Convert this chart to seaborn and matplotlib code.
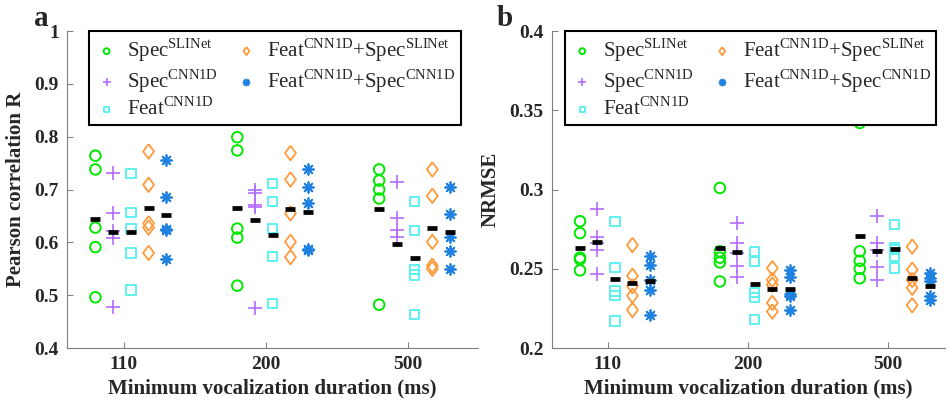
import numpy as np
import pandas as pd
import seaborn as sns
import matplotlib.pyplot as plt
from matplotlib.ticker import FuncFormatter, MultipleLocator

durations = [110, 200, 500]
models = ["Spec$^{\\mathrm{SLINet}}$", "Spec$^{\\mathrm{CNN1D}}$", "Feat$^{\\mathrm{CNN1D}}$",
          "Feat$^{\\mathrm{CNN1D}}$+Spec$^{\\mathrm{SLINet}}$",
          "Feat$^{\\mathrm{CNN1D}}$+Spec$^{\\mathrm{CNN1D}}$"]

# Pearson R, one list of folds per duration (110, 200, 500)
r_spec_slinet = [[0.764, 0.738, 0.628, 0.591, 0.496], [0.799, 0.774, 0.626, 0.609, 0.518], [0.738, 0.717, 0.700, 0.683, 0.482]]
r_spec_cnn1d = [[0.731, 0.656, 0.622, 0.609, 0.478], [0.700, 0.694, 0.671, 0.667, 0.476], [0.715, 0.647, 0.624, 0.610, 0.385]]
r_feat_cnn1d = [[0.730, 0.656, 0.626, 0.580, 0.510], [0.712, 0.677, 0.626, 0.573, 0.484], [0.677, 0.623, 0.548, 0.538, 0.464]]
r_feat_spec_slinet = [[0.772, 0.709, 0.636, 0.628, 0.580], [0.769, 0.719, 0.655, 0.601, 0.572], [0.738, 0.688, 0.601, 0.556, 0.550]]
r_feat_spec_cnn1d = [[0.756, 0.685, 0.626, 0.624, 0.569], [0.738, 0.704, 0.674, 0.588, 0.586], [0.704, 0.653, 0.611, 0.583, 0.550]]

# NRMSE
e_spec_slinet = [[0.280, 0.2725, 0.257, 0.256, 0.249], [0.301, 0.261, 0.257, 0.254, 0.242], [0.342, 0.261, 0.255, 0.250, 0.244]]
e_spec_cnn1d = [[0.288, 0.270, 0.266, 0.262, 0.247], [0.279, 0.2665, 0.260, 0.252, 0.245], [0.283, 0.266, 0.262, 0.251, 0.243]]
e_feat_cnn1d = [[0.280, 0.251, 0.236, 0.233, 0.217], [0.261, 0.2545, 0.235, 0.232, 0.218], [0.278, 0.2636, 0.262, 0.258, 0.2504]]
e_feat_spec_slinet = [[0.265, 0.2456, 0.239, 0.233, 0.224], [0.2504, 0.243, 0.240, 0.2285, 0.223], [0.264, 0.2494, 0.243, 0.238, 0.227]]
e_feat_spec_cnn1d = [[0.258, 0.2525, 0.243, 0.2364, 0.221], [0.2494, 0.245, 0.2343, 0.2326, 0.2238], [0.2473, 0.2442, 0.2423, 0.2326, 0.2301]]

r_all = [r_spec_slinet, r_spec_cnn1d, r_feat_cnn1d, r_feat_spec_slinet, r_feat_spec_cnn1d]
e_all = [e_spec_slinet, e_spec_cnn1d, e_feat_cnn1d, e_feat_spec_slinet, e_feat_spec_cnn1d]

colors = ["#00e800", "#b46cff", "#5ef0f0", "#ff9a3c", "#1f82e0"]
offsets = [-0.2, -0.075, 0.05, 0.175, 0.3]
diamond = [(0, 1), (0.75, 0), (0, -1), (-0.75, 0), (0, 1)]
styles = [
    dict(marker="o", s=58, facecolors="none", linewidth=1.4),
    dict(marker="+", s=90, linewidth=1.2),
    dict(marker="s", s=45, facecolors="none", linewidth=1.4),
    dict(marker=diamond, s=110, facecolors="none", linewidth=1.3),
    dict(marker=(8, 2, 0), s=60, linewidth=1.3),
]


def long_table(values):
    rows = []
    for m, per_dur in enumerate(values):
        for d, folds in enumerate(per_dur):
            for v in folds:
                rows.append({"model": m, "dur": d, "x": d + 1 + offsets[m], "value": v})
    return pd.DataFrame(rows)


sns.set_style("ticks")
plt.rcParams["font.family"] = ["Liberation Serif", "DejaVu Serif"]
plt.rcParams["mathtext.fontset"] = "custom"
plt.rcParams["mathtext.rm"] = "Liberation Serif"

fig = plt.figure(figsize=(9.48, 4.08), dpi=100)
ax_a = fig.add_axes([0.0707, 0.147, 0.434, 0.777])
ax_b = fig.add_axes([0.5823, 0.147, 0.4146, 0.777])

panels = [(ax_a, r_all, "Pearson correlation R", (0.4, 1.0), 0.1, (0.6, 3.5)),
          (ax_b, e_all, "NRMSE", (0.2, 0.4), 0.05, (0.6, 3.41))]

for ax, values, ylabel, ylim, step, xlim in panels:
    df = long_table(values)
    for m in range(len(models)):
        sub = df[df["model"] == m]
        kw = dict(styles[m])
        if "facecolors" in kw:
            kw["edgecolor"] = colors[m]
        else:
            kw["color"] = colors[m]
        sns.scatterplot(data=sub, x="x", y="value", ax=ax, label=models[m], zorder=3, **kw)
    means = df.groupby(["model", "dur"], as_index=False).agg(x=("x", "mean"), value=("value", "mean"))
    sns.scatterplot(data=means, x="x", y="value", ax=ax, marker="_", s=62, color="black",
                    linewidth=3.4, zorder=4, legend=False)

    ax.set_xlim(*xlim)
    ax.set_ylim(*ylim)
    ax.set_xticks([1, 2, 3])
    ax.set_xticklabels([str(d) for d in durations])
    ax.yaxis.set_major_locator(MultipleLocator(step))
    ax.yaxis.set_major_formatter(FuncFormatter(lambda v, p: f"{round(v, 3):g}"))
    ax.tick_params(direction="in", length=4, width=0.8, color="#808080", labelsize=14, pad=6)
    for lab in ax.get_xticklabels() + ax.get_yticklabels():
        lab.set_fontweight("bold")
    for side in ["left", "bottom"]:
        ax.spines[side].set_color("#808080")
        ax.spines[side].set_linewidth(0.8)
    sns.despine(ax=ax)
    ax.set_xlabel("Minimum vocalization duration (ms)", fontsize=15, fontweight="bold", labelpad=4)
    ax.set_ylabel(ylabel, fontsize=15, fontweight="bold", labelpad=6)

    leg = ax.legend(loc="upper center", bbox_to_anchor=(0.505, 1.0), ncol=2, fontsize=15,
                    frameon=True, fancybox=False, framealpha=1, edgecolor="black",
                    markerscale=0.55, handlelength=1.2, handletextpad=0.4, columnspacing=0.75,
                    labelspacing=0.15, borderpad=0.25, borderaxespad=0)
    leg.get_frame().set_linewidth(1.5)
    leg.set_zorder(10)

fig.text(0.044, 0.955, "a", fontsize=21, fontweight="bold", ha="center", va="center")
fig.text(0.532, 0.955, "b", fontsize=21, fontweight="bold", ha="center", va="center")

fig.savefig("out.png", dpi=100)
